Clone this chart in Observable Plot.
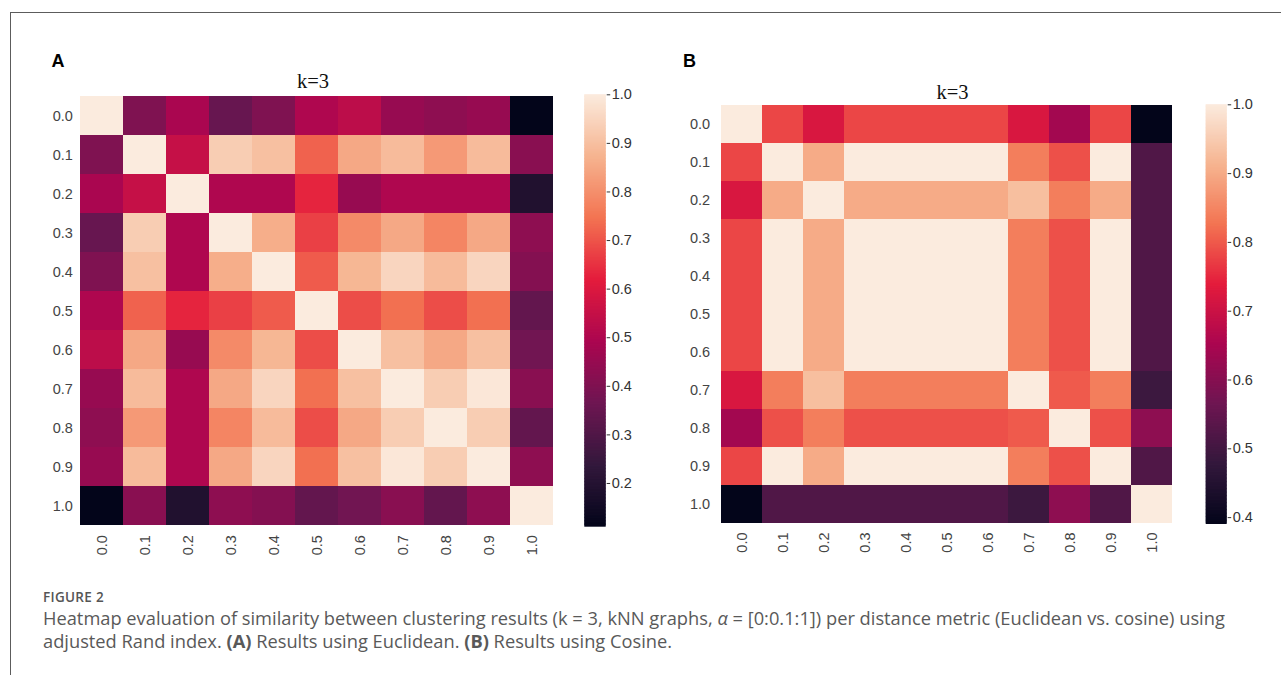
<!DOCTYPE html>
<html><head><meta charset="utf-8">
<script src="https://cdn.jsdelivr.net/npm/d3@7"></script>
<script src="https://cdn.jsdelivr.net/npm/@observablehq/plot@0.6"></script>
<style>
html,body{margin:0;padding:0;background:#fff;}
#root{position:relative;width:1281px;height:675px;overflow:hidden;background:#fff;}
#root svg{position:absolute;}
</style></head>
<body><div id="root"></div>
<script>
// ---- data ----
const alphas = ["0.0","0.1","0.2","0.3","0.4","0.5","0.6","0.7","0.8","0.9","1.0"];

// (A) adjusted Rand index, Euclidean, k=3 (rows/cols = alpha)
const euclideanARI = [
  [1.00,0.40,0.49,0.35,0.40,0.50,0.53,0.45,0.43,0.45,0.11],
  [0.40,1.00,0.55,0.93,0.90,0.72,0.85,0.89,0.82,0.89,0.42],
  [0.49,0.55,1.00,0.50,0.50,0.63,0.45,0.50,0.50,0.50,0.19],
  [0.35,0.93,0.50,1.00,0.86,0.67,0.79,0.85,0.78,0.85,0.43],
  [0.40,0.90,0.50,0.86,1.00,0.71,0.88,0.95,0.89,0.95,0.41],
  [0.50,0.72,0.63,0.67,0.71,1.00,0.69,0.74,0.69,0.74,0.34],
  [0.53,0.85,0.45,0.79,0.88,0.69,1.00,0.90,0.85,0.90,0.37],
  [0.45,0.89,0.50,0.85,0.95,0.74,0.90,1.00,0.93,0.99,0.42],
  [0.43,0.82,0.50,0.78,0.89,0.69,0.85,0.93,1.00,0.93,0.34],
  [0.45,0.89,0.50,0.85,0.95,0.74,0.90,0.99,0.93,1.00,0.43],
  [0.11,0.42,0.19,0.43,0.41,0.34,0.37,0.42,0.34,0.43,1.00]
];

// (B) adjusted Rand index, Cosine, k=3
const cosineARI = [
  [1.00,0.78,0.72,0.78,0.78,0.78,0.78,0.72,0.64,0.78,0.39],
  [0.78,1.00,0.90,1.00,1.00,1.00,1.00,0.84,0.79,1.00,0.52],
  [0.72,0.90,1.00,0.90,0.90,0.90,0.90,0.93,0.84,0.90,0.52],
  [0.78,1.00,0.90,1.00,1.00,1.00,1.00,0.84,0.79,1.00,0.52],
  [0.78,1.00,0.90,1.00,1.00,1.00,1.00,0.84,0.79,1.00,0.52],
  [0.78,1.00,0.90,1.00,1.00,1.00,1.00,0.84,0.79,1.00,0.52],
  [0.78,1.00,0.90,1.00,1.00,1.00,1.00,0.84,0.79,1.00,0.52],
  [0.72,0.84,0.93,0.84,0.84,0.84,0.84,1.00,0.80,0.84,0.49],
  [0.64,0.79,0.84,0.79,0.79,0.79,0.79,0.80,1.00,0.79,0.61],
  [0.78,1.00,0.90,1.00,1.00,1.00,1.00,0.84,0.79,1.00,0.52],
  [0.39,0.52,0.52,0.52,0.52,0.52,0.52,0.49,0.61,0.52,1.00]
];

const colorbarTicksA = [0.2,0.3,0.4,0.5,0.6,0.7,0.8,0.9,1.0];
const colorbarTicksB = [0.4,0.5,0.6,0.7,0.8,0.9,1.0];
const panelTitle = "k=3";
const captionLabel = "FIGURE 2";

// seaborn "rocket"-like colormap stops (tuned to the reference rendering)
const rocketStops = ["#03051a","#33183c","#6e1652","#ab0650","#e41c3c","#f37452","#f6b490","#fbebde"];
const rocket = d3.piecewise(d3.interpolateRgb, rocketStops);

const root = document.getElementById("root");
const tickFont = "'Liberation Sans', Arial, Helvetica, sans-serif";

function toCells(matrix) {
  const out = [];
  matrix.forEach((row, i) => row.forEach((v, j) => out.push({row: alphas[i], col: alphas[j], value: v})));
  return out;
}

function place(svg, left, top) {
  svg.style.left = left + "px";
  svg.style.top = top + "px";
  svg.style.maxWidth = "none";
  root.appendChild(svg);
}

function heatmap(matrix, g) {
  const vals = matrix.flat();
  const domain = [d3.min(vals), d3.max(vals)];
  const svg = Plot.plot({
    width: g.width, height: g.height,
    marginLeft: g.mL, marginTop: g.mT, marginRight: g.mR, marginBottom: g.mB,
    style: {fontSize: "14.5px", fontFamily: tickFont, color: "#444", background: "transparent", overflow: "visible"},
    x: {type: "band", domain: alphas, padding: 0, label: null, tickSize: 0, tickPadding: 8, tickRotate: -90},
    y: {type: "band", domain: alphas, padding: 0, label: null, tickSize: 0, tickPadding: 6},
    color: {type: "linear", domain, interpolate: t => rocket(t)},
    marks: [Plot.cell(toCells(matrix), {x: "col", y: "row", fill: "value", inset: 0})]
  });
  place(svg, g.left, g.top);
}

function colorbar(matrix, ticks, g) {
  const vals = matrix.flat();
  const domain = [d3.min(vals), d3.max(vals)];
  const n = 300, span = domain[1] - domain[0];
  const bands = d3.range(n).map(i => ({
    lo: domain[0] + span * i / n,
    hi: domain[0] + span * Math.min(1, (i + 1.8) / n),
    mid: domain[0] + span * (i + 0.5) / n
  }));
  const svg = Plot.plot({
    width: g.width, height: g.height,
    marginLeft: g.mL, marginTop: g.mT, marginRight: g.mR, marginBottom: g.mB,
    style: {fontSize: "14.5px", fontFamily: tickFont, color: "#333", background: "transparent", overflow: "visible"},
    x: {domain: [0, 1], axis: null},
    y: {domain, axis: "right", ticks, tickFormat: d3.format(".1f"), tickSize: 3.5, tickPadding: 2, label: null},
    color: {type: "linear", domain, interpolate: t => rocket(t)},
    marks: [Plot.rect(bands, {x1: 0, x2: 1, y1: "lo", y2: "hi", fill: "mid"})]
  });
  place(svg, g.left, g.top);
}

// frame lines
const frame = document.createElement("div");
Object.assign(frame.style, {position: "absolute", left: "10px", top: "12px", width: "1300px", height: "700px",
  borderLeft: "1px solid #5c5c5c", borderTop: "1px solid #5c5c5c"});
root.appendChild(frame);

heatmap(euclideanARI, {left: 0, top: 0, width: 570, height: 575, mL: 78.3, mT: 94.3, mR: 15.7, mB: 48.3});
colorbar(euclideanARI, colorbarTicksA, {left: 570, top: 0, width: 80, height: 575, mL: 14.3, mT: 94.3, mR: 44.3, mB: 48.3});
heatmap(cosineARI, {left: 640, top: 0, width: 560, height: 575, mL: 75.7, mT: 104.3, mR: 23.3, mB: 51});
colorbar(cosineARI, colorbarTicksB, {left: 1190, top: 0, width: 91, height: 575, mL: 15.7, mT: 104.3, mR: 54.3, mB: 51});

// overlay text
const ov = d3.select(root).append("svg").attr("width", 1281).attr("height", 675)
  .style("left", "0px").style("top", "0px").style("pointer-events", "none");
ov.append("text").attr("x", 51.5).attr("y", 67).text("A")
  .attr("font-family", tickFont).attr("font-weight", "bold").attr("font-size", 18).attr("fill", "#000");
ov.append("text").attr("x", 683).attr("y", 66.5).text("B")
  .attr("font-family", tickFont).attr("font-weight", "bold").attr("font-size", 18).attr("fill", "#000");
ov.append("text").attr("x", 313).attr("y", 88).attr("text-anchor", "middle").text(panelTitle)
  .attr("font-family", "'Liberation Serif', 'Times New Roman', serif").attr("font-size", 20.5).attr("fill", "#111");
ov.append("text").attr("x", 952.5).attr("y", 98.5).attr("text-anchor", "middle").text(panelTitle)
  .attr("font-family", "'Liberation Serif', 'Times New Roman', serif").attr("font-size", 20.5).attr("fill", "#111");

const capFont = "'Open Sans', 'Noto Sans', sans-serif";
ov.append("text").attr("x", 43).attr("y", 602).text(captionLabel)
  .attr("font-family", capFont).attr("font-weight", 600).attr("font-size", 13.5).attr("letter-spacing", 0.3).attr("fill", "#555");

const line1 = ov.append("text").attr("x", 43).attr("y", 625).attr("font-family", capFont).attr("font-size", 15).attr("fill", "#595959");
line1.append("tspan").text("Heatmap evaluation of similarity between clustering results (k = 3, kNN graphs, ");
line1.append("tspan").attr("font-style", "italic").text("α");
line1.append("tspan").text(" = [0:0.1:1]) per distance metric (Euclidean vs. cosine) using");
const line2 = ov.append("text").attr("x", 43).attr("y", 648).attr("font-family", capFont).attr("font-size", 15).attr("fill", "#595959");
line2.append("tspan").text("adjusted Rand index. ");
line2.append("tspan").attr("font-weight", "bold").text("(A)");
line2.append("tspan").text(" Results using Euclidean. ");
line2.append("tspan").attr("font-weight", "bold").text("(B)");
line2.append("tspan").text(" Results using Cosine.");
const w1 = line1.node().getComputedTextLength();
if (w1 > 0) {
  const fs = 15 * 1183 / w1;
  line1.attr("font-size", fs);
  line2.attr("font-size", fs);
}
</script>
</body></html>
